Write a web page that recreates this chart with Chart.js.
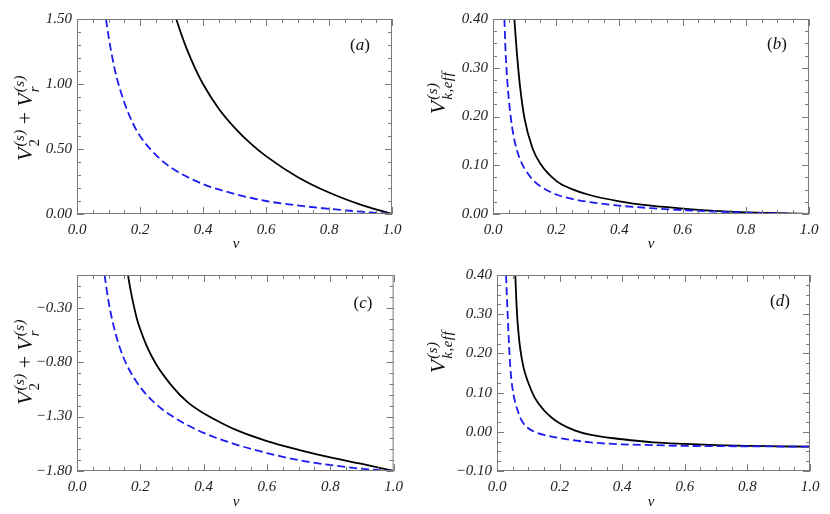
<!DOCTYPE html>
<html>
<head>
<meta charset="utf-8">
<script src="https://cdn.jsdelivr.net/npm/chart.js@4.4.0/dist/chart.umd.min.js"></script>
<style>
  body { margin: 0; background: #fff; }
  #wrap { position: relative; width: 830px; height: 514px; font-family: "Liberation Serif", "DejaVu Serif", serif; color: #111; }
  .panel { position: absolute; }
  .lbl { position: absolute; transform: translate(-50%, -50%); white-space: nowrap; font-size: 17px; }
  .ytitle { transform: translate(-50%, -50%) rotate(-90deg); font-size: 22px; }
  .ss { display: inline-flex; flex-direction: column; vertical-align: middle; font-size: 15px; line-height: 15px; margin-left: 1px; letter-spacing: 0.5px; }
  .op { margin: 0 5px; }
  i { font-style: italic; }
</style>
</head>
<body>
<div id="wrap">
  <div class="panel" style="left:0;top:0;width:410px;height:257px"><canvas id="chartA" width="410" height="257"></canvas></div>
  <div class="panel" style="left:415px;top:0;width:415px;height:257px"><canvas id="chartB" width="415" height="257"></canvas></div>
  <div class="panel" style="left:0;top:257px;width:410px;height:257px"><canvas id="chartC" width="410" height="257"></canvas></div>
  <div class="panel" style="left:415px;top:257px;width:415px;height:257px"><canvas id="chartD" width="415" height="257"></canvas></div>

  <!-- titres des axes -->
  <div class="lbl ytitle" style="left:27px;top:118px"><i>V</i><span class="ss"><i>(s)</i><span>2</span></span><span class="op">+</span><i>V</i><span class="ss"><i>(s)</i><i>r</i></span></div>
  <div class="lbl ytitle" style="left:440px;top:93px"><i>V</i><span class="ss"><i>(s)</i><i>k,eff</i></span></div>
  <div class="lbl ytitle" style="left:27px;top:362px"><i>V</i><span class="ss"><i>(s)</i><span>2</span></span><span class="op">+</span><i>V</i><span class="ss"><i>(s)</i><i>r</i></span></div>
  <div class="lbl ytitle" style="left:440px;top:352px"><i>V</i><span class="ss"><i>(s)</i><i>k,eff</i></span></div>

  <div class="lbl" style="left:236px;top:243px;font-size:15px"><i>ν</i></div>
  <div class="lbl" style="left:651px;top:243px;font-size:15px"><i>ν</i></div>
  <div class="lbl" style="left:236px;top:501px;font-size:15px"><i>ν</i></div>
  <div class="lbl" style="left:651px;top:501px;font-size:15px"><i>ν</i></div>

  <!-- étiquettes des panneaux -->
  <div class="lbl" style="left:360px;top:45px">(<i>a</i>)</div>
  <div class="lbl" style="left:777px;top:44px">(<i>b</i>)</div>
  <div class="lbl" style="left:363px;top:303px">(<i>c</i>)</div>
  <div class="lbl" style="left:780px;top:301px">(<i>d</i>)</div>
</div>

<script>
// Données
const xTicks = [0, 0.2, 0.4, 0.6, 0.8, 1.0];

// (a)
const nuA1 = [0.315, 0.33, 0.35, 0.375, 0.4, 0.45, 0.5, 0.55, 0.6, 0.7, 0.8, 0.9, 1.0];
const vA1  = [1.50, 1.39, 1.26, 1.12, 1.0, 0.81, 0.665, 0.545, 0.445, 0.285, 0.165, 0.072, 0.0];
const nuA2 = [0.092, 0.1, 0.11, 0.125, 0.15, 0.175, 0.2, 0.25, 0.3, 0.4, 0.5, 0.6, 0.7, 0.8, 0.9, 1.0];
const vA2  = [1.50, 1.37, 1.23, 1.06, 0.86, 0.71, 0.60, 0.455, 0.355, 0.23, 0.155, 0.10, 0.066, 0.04, 0.018, 0.0];
const yTicksA = [0, 0.5, 1.0, 1.5];

// (b)
const nuB1 = [0.0675, 0.075, 0.085, 0.1, 0.125, 0.15, 0.2, 0.25, 0.3, 0.4, 0.5, 0.6, 0.7, 0.8, 0.9, 1.0];
const vB1  = [0.40, 0.335, 0.265, 0.195, 0.135, 0.103, 0.068, 0.051, 0.04, 0.026, 0.017, 0.011, 0.0065, 0.0035, 0.0015, 0.0];
const nuB2 = [0.036, 0.04, 0.045, 0.05, 0.06, 0.07, 0.085, 0.1, 0.125, 0.15, 0.2, 0.25, 0.3, 0.4, 0.5, 0.6, 0.7, 0.8, 0.9, 1.0];
const vB2  = [0.40, 0.33, 0.275, 0.235, 0.18, 0.145, 0.113, 0.093, 0.071, 0.057, 0.04, 0.031, 0.025, 0.017, 0.012, 0.008, 0.005, 0.003, 0.0012, 0.0];
const yTicksB = [0, 0.1, 0.2, 0.3, 0.4];

// (c)
const nuC1 = [0.161, 0.17, 0.18, 0.19, 0.2, 0.22, 0.25, 0.3, 0.35, 0.4, 0.45, 0.5, 0.6, 0.7, 0.8, 0.9, 1.0];
const vC1  = [0, -0.15, -0.29, -0.41, -0.50, -0.65, -0.82, -1.02, -1.17, -1.27, -1.35, -1.42, -1.525, -1.605, -1.675, -1.735, -1.80];
const nuC2 = [0.087, 0.1, 0.115, 0.13, 0.145, 0.165, 0.19, 0.215, 0.24, 0.27, 0.3, 0.35, 0.4, 0.5, 0.6, 0.7, 0.8, 0.9, 1.0];
const vC2  = [0, -0.25, -0.46, -0.62, -0.745, -0.87, -0.99, -1.085, -1.16, -1.235, -1.295, -1.38, -1.45, -1.555, -1.635, -1.70, -1.745, -1.78, -1.80];
const yTicksC = [-1.8, -1.3, -0.8, -0.3];

// (d)
const nuD1 = [0.0585, 0.061, 0.064, 0.069, 0.0745, 0.085, 0.1, 0.12, 0.15, 0.175, 0.2, 0.25, 0.3, 0.4, 0.5, 0.6, 0.7, 0.8, 0.9, 1.0];
const vD1  = [0.40, 0.35, 0.30, 0.25, 0.21, 0.163, 0.125, 0.088, 0.055, 0.036, 0.022, 0.003, -0.008, -0.019, -0.027, -0.031, -0.034, -0.036, -0.037, -0.038];
const nuD2 = [0.029, 0.031, 0.034, 0.0375, 0.0425, 0.05, 0.06, 0.07, 0.08, 0.1, 0.12, 0.15, 0.2, 0.3, 0.4, 0.5, 0.6, 0.8, 1.0];
const vD2  = [0.40, 0.357, 0.30, 0.238, 0.165, 0.108, 0.07, 0.045, 0.027, 0.009, 0.0, -0.008, -0.016, -0.027, -0.032, -0.034, -0.036, -0.037, -0.038];
const yTicksD = [-0.1, 0, 0.1, 0.2, 0.3, 0.4];

const tickFont = { family: '"Liberation Serif", serif', size: 15, style: 'italic' };
const frameColor = '#7a7a7a';

// cadre + graduations intérieures sur les quatre côtés
const frameTicks = {
    id: 'frameTicks',
    afterDatasetsDraw(chart, args, opts) {
        const { ctx, chartArea: a, scales: { x, y } } = chart;
        ctx.save();
        ctx.strokeStyle = frameColor;
        ctx.lineWidth = 1;
        ctx.beginPath();
        for (let i = 0; i <= 20; i++) {
            const px = Math.round(x.getPixelForValue(i * 0.05)) + 0.5;
            const len = i % 4 === 0 ? 7 : 4;
            ctx.moveTo(px, a.bottom); ctx.lineTo(px, a.bottom - len);
            ctx.moveTo(px, a.top); ctx.lineTo(px, a.top + len);
        }
        const n = Math.round((y.max - y.min) / opts.minor);
        for (let k = 0; k <= n; k++) {
            const v = y.min + k * opts.minor;
            const major = opts.major.some(m => Math.abs(m - v) < 1e-6);
            const py = Math.round(y.getPixelForValue(v)) + 0.5;
            const len = major ? 7 : 4;
            ctx.moveTo(a.left, py); ctx.lineTo(a.left + len, py);
            ctx.moveTo(a.right, py); ctx.lineTo(a.right - len, py);
        }
        ctx.stroke();
        ctx.strokeRect(a.left + 0.5, a.top + 0.5, a.width - 1, a.height - 1);
        ctx.restore();
    }
};

function pts(xs, ys) {
    return xs.map((v, i) => ({ x: v, y: ys[i] }));
}

function makePanel(id, solid, dashed, yMin, yMax, yTicks, minor, yWidth, padTop, padRight) {
    new Chart(document.getElementById(id), {
        type: 'scatter',
        data: {
            datasets: [
                {
                    data: dashed,
                    showLine: true,
                    borderColor: '#1c1cf0',
                    borderWidth: 1.8,
                    borderDash: [8, 4],
                    pointRadius: 0,
                    cubicInterpolationMode: 'monotone'
                },
                {
                    data: solid,
                    showLine: true,
                    borderColor: '#000',
                    borderWidth: 1.8,
                    pointRadius: 0,
                    cubicInterpolationMode: 'monotone'
                }
            ]
        },
        options: {
            responsive: false,
            animation: false,
            layout: { padding: { top: padTop, right: padRight, left: 0, bottom: 0 } },
            plugins: {
                legend: { display: false },
                tooltip: { enabled: false },
                frameTicks: { major: yTicks, minor: minor }
            },
            scales: {
                x: {
                    type: 'linear', min: 0, max: 1,
                    afterBuildTicks: s => { s.ticks = xTicks.map(v => ({ value: v })); },
                    afterFit: s => { s.height = 43; },
                    grid: { display: false, drawTicks: false, tickLength: 0 },
                    border: { display: false },
                    ticks: {
                        autoSkip: false, maxRotation: 0, padding: 7,
                        color: '#222', font: tickFont,
                        callback: v => v.toFixed(1)
                    }
                },
                y: {
                    type: 'linear', min: yMin, max: yMax,
                    afterBuildTicks: s => { s.ticks = yTicks.map(v => ({ value: v })); },
                    afterFit: s => { s.width = yWidth; },
                    grid: { display: false, drawTicks: false, tickLength: 0 },
                    border: { display: false },
                    ticks: {
                        autoSkip: false, padding: 5,
                        color: '#222', font: tickFont,
                        callback: v => v.toFixed(2).replace('-', '\u2212')
                    }
                }
            }
        },
        plugins: [frameTicks]
    });
}

makePanel('chartA', pts(nuA1, vA1), pts(nuA2, vA2), 0, 1.5, yTicksA, 0.1, 77, 19, 18);
makePanel('chartB', pts(nuB1, vB1), pts(nuB2, vB2), 0, 0.4, yTicksB, 0.025, 78, 19, 21);
makePanel('chartC', pts(nuC1, vC1), pts(nuC2, vC2), -1.8, 0, yTicksC, 0.1, 77, 18, 15);
makePanel('chartD', pts(nuD1, vD1), pts(nuD2, vD2), -0.1, 0.4, yTicksD, 0.025, 82, 18, 20);
</script>
</body>
</html>
